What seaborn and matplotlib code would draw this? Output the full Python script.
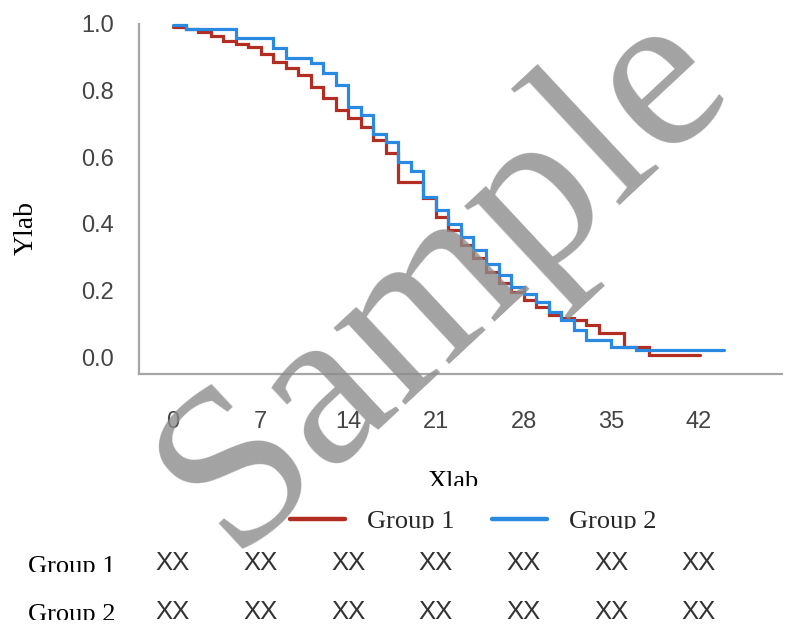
import numpy as np
import pandas as pd
import matplotlib
matplotlib.use("Agg")
import matplotlib.pyplot as plt
import seaborn as sns
from matplotlib.lines import Line2D
from matplotlib.transforms import Bbox, TransformedBbox, blended_transform_factory

# ---------------- data ----------------
g1_time = [0, 1, 2, 3, 4, 5, 6, 7, 8, 9, 10, 11, 12, 13, 14, 15, 16, 17, 18, 19, 20,
           21, 22, 23, 24, 25, 26, 27, 28, 29, 30, 31, 32, 33, 34, 35, 36, 37, 38, 42.1]
g1_surv = [0.99, 0.985, 0.975, 0.965, 0.95, 0.94, 0.93, 0.91, 0.886, 0.868, 0.847,
           0.81, 0.778, 0.742, 0.718, 0.69, 0.652, 0.613, 0.525, 0.525, 0.477,
           0.42, 0.38, 0.336, 0.297, 0.255, 0.222, 0.195, 0.171, 0.15, 0.126,
           0.117, 0.11, 0.096, 0.072, 0.072, 0.03, 0.03, 0.005, 0.005]

g2_time = [0, 1, 5, 8, 9, 11, 12, 13, 14, 15, 16, 17, 18, 19, 20, 21, 22, 23, 24,
           25, 26, 27, 28, 29, 30, 31, 32, 33, 35, 37, 44]
g2_surv = [0.997, 0.985, 0.958, 0.928, 0.898, 0.883, 0.853, 0.817, 0.75, 0.727,
           0.67, 0.645, 0.585, 0.56, 0.48, 0.44, 0.40, 0.36, 0.32, 0.28, 0.245,
           0.21, 0.19, 0.165, 0.135, 0.11, 0.08, 0.05, 0.03, 0.02, 0.02]

groups = ["Group 1", "Group 2"]
colors = ["#B22D22", "#2A8AE2"]
x_ticks = [0, 7, 14, 21, 28, 35, 42]
y_ticks = [0.0, 0.2, 0.4, 0.6, 0.8, 1.0]
risk_g1 = ["XX"] * 7
risk_g2 = ["XX"] * 7
x_label = "Xlab"
y_label = "Ylab"
watermark = "Sample"

df = pd.concat([
    pd.DataFrame({"time": g1_time, "surv": g1_surv, "group": groups[0]}),
    pd.DataFrame({"time": g2_time, "surv": g2_surv, "group": groups[1]}),
], ignore_index=True)

# ---------------- figure ----------------
sns.set_style("white")
SERIF = "Liberation Serif"
SANS = "Liberation Sans"
plt.rcParams["font.family"] = [SANS, "DejaVu Sans"]

W, H = 785, 624
fig = plt.figure(figsize=(W / 100, H / 100), dpi=100)

def fx(px):
    return px / W

def fy(py):
    return 1 - py / H

ax = fig.add_axes([fx(139), fy(374), fx(782) - fx(139), fy(23) - fy(374)])

sns.lineplot(data=df, x="time", y="surv", hue="group", palette=colors,
             hue_order=groups, estimator=None, drawstyle="steps-post",
             linewidth=2.3, legend=False, ax=ax)
for ln in ax.lines:
    ln.set_clip_on(False)
    ln.set_solid_joinstyle("miter")

ax.set_xlim(-2.716, 48.64)
ax.set_ylim(-0.051, 1.003)
ax.set_xticks(x_ticks)
ax.set_xticklabels([str(t) for t in x_ticks])
ax.set_yticks(y_ticks)
ax.set_yticklabels([f"{v:.1f}" for v in y_ticks])
ax.set_xlabel("")
ax.set_ylabel("")

for s in ["top", "right"]:
    ax.spines[s].set_visible(False)
for s in ["left", "bottom"]:
    ax.spines[s].set_color("#a6a6a6")
    ax.spines[s].set_linewidth(1.6)
ax.spines["left"].set_bounds(-0.051, 1.0)

ax.tick_params(axis="x", length=13, width=1.5, color="#a6a6a6", pad=14,
               labelsize=17, labelcolor="#444444", direction="out")
ax.tick_params(axis="y", length=11, width=1.5, color="#a6a6a6", pad=7,
               labelsize=17, labelcolor="#444444", direction="out")
for lab in ax.get_xticklabels() + ax.get_yticklabels():
    lab.set_family([SANS, "DejaVu Sans"])


def clip_below(text, py):
    bb = Bbox.from_extents(0, fy(py), 1, 1)
    text.set_clip_box(TransformedBbox(bb, fig.transFigure))
    text.set_clip_on(True)


# axis titles
xl = fig.text(fx(453), fy(488), x_label, family=SERIF, fontsize=19,
              ha="center", va="baseline", color="black")
clip_below(xl, 486)
fig.text(fx(26), fy(228), y_label, family=SERIF, fontsize=20, rotation=90,
         ha="center", va="center", color="black")

# legend
handles = [Line2D([0], [0], color=c, lw=3.2) for c in colors]
leg = fig.legend(handles, groups, loc="center left",
                 bbox_to_anchor=(fx(290), fy(521)), ncol=2, frameon=False,
                 borderpad=0, borderaxespad=0, handlelength=2.08,
                 handletextpad=0.83, columnspacing=1.44,
                 prop={"family": SERIF, "size": 19})
for t in leg.get_texts():
    clip_below(t, 529)

# risk table
trans = blended_transform_factory(ax.transData, fig.transFigure)
rows = [(groups[0], risk_g1, 563, 573), (groups[1], risk_g2, 612, 621)]
for name, vals, yc, base in rows:
    t = fig.text(fx(28), fy(base), name, family=SERIF, fontsize=19,
                 ha="left", va="baseline", color="black")
    clip_below(t, base - 1)
    for xt, v in zip(x_ticks, vals):
        ax.text(xt, fy(yc), v, transform=trans, ha="center", va="center",
                fontsize=18.5, color="#333333", family=[SANS, "DejaVu Sans"],
                clip_on=False)

# watermark
fig.text(fx(445), fy(278), watermark, family=SERIF, fontsize=165,
         rotation=43, ha="center", va="center", color="#8c8c8c", alpha=0.8,
         zorder=10)

fig.savefig("out.png", dpi=100)
